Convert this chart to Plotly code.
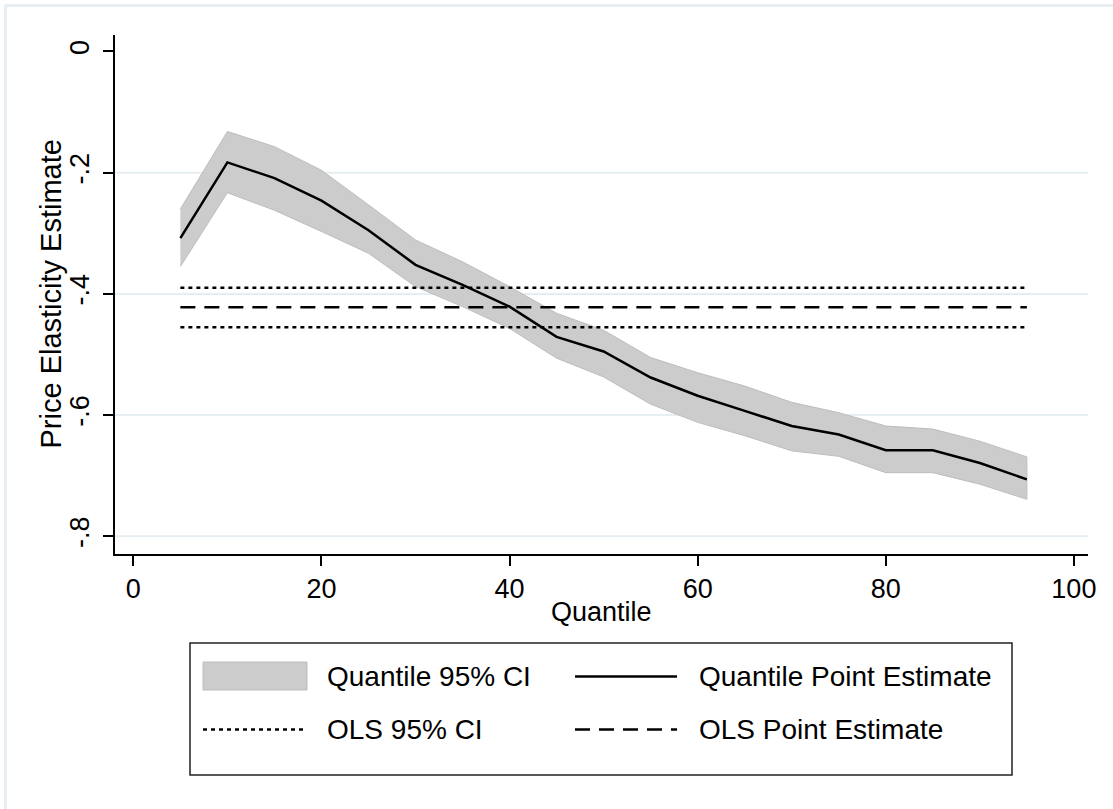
import plotly.graph_objects as go

# ---------------- data ----------------
quantiles = [5, 10, 15, 20, 25, 30, 35, 40, 45, 50, 55, 60, 65, 70, 75, 80, 85, 90, 95]
point_est = [-0.308, -0.183, -0.209, -0.246, -0.295, -0.352, -0.385, -0.421, -0.471, -0.495,
             -0.538, -0.568, -0.593, -0.618, -0.632, -0.658, -0.658, -0.679, -0.706]
ci_upper = [-0.260, -0.132, -0.157, -0.196, -0.253, -0.311, -0.347, -0.388, -0.432, -0.460,
            -0.505, -0.530, -0.552, -0.579, -0.596, -0.618, -0.623, -0.643, -0.669]
ci_lower = [-0.355, -0.233, -0.262, -0.297, -0.333, -0.388, -0.421, -0.457, -0.506, -0.537,
            -0.582, -0.612, -0.634, -0.659, -0.668, -0.695, -0.695, -0.714, -0.739]
ols_x = [5, 95]
ols_est = -0.422
ols_lo = -0.455
ols_hi = -0.390

x_ticks = [0, 20, 40, 60, 80, 100]
y_ticks = [-0.8, -0.6, -0.4, -0.2, 0]
y_ticktext = ["-.8", "-.6", "-.4", "-.2", "0"]
grid_vals = [-0.8, -0.6, -0.4, -0.2]
legend_labels = ["Quantile 95% CI", "Quantile Point Estimate", "OLS 95% CI", "OLS Point Estimate"]

# ---------------- layout geometry ----------------
W, H = 1113, 809
L, R, T, B = 115, 1088, 35, 554          # plot area in pixels
FONT = "Liberation Sans, Arial, sans-serif"
FS_TICK = 27
FS_XT = 27
FS_YT = 29
FS_LEG = 28
BAND = "#cccccc"
BAND_EDGE = "#bdbdbd"
GRID = "#e6eef1"

def px_x(p):
    return (p - L) / (R - L)

def px_y(p):
    return (B - p) / (B - T)

fig = go.Figure()

# CI band
fig.add_trace(go.Scatter(
    x=quantiles + quantiles[::-1],
    y=ci_upper + ci_lower[::-1],
    fill="toself", fillcolor=BAND,
    line=dict(color=BAND_EDGE, width=1),
    mode="lines", name=legend_labels[0], showlegend=False, hoverinfo="skip"))

# OLS CI dotted lines
for v in (ols_hi, ols_lo):
    fig.add_trace(go.Scatter(
        x=ols_x, y=[v, v], mode="lines",
        line=dict(color="black", width=2.5, dash="4px,4px"),
        name=legend_labels[2], showlegend=False))

# OLS point estimate dashed
fig.add_trace(go.Scatter(
    x=ols_x, y=[ols_est, ols_est], mode="lines",
    line=dict(color="black", width=2.5, dash="15px,9px"),
    name=legend_labels[3], showlegend=False))

# Quantile point estimate
fig.add_trace(go.Scatter(
    x=quantiles, y=point_est, mode="lines",
    line=dict(color="black", width=2.5),
    name=legend_labels[1], showlegend=False))

shapes = []
# gridlines (below data)
for g in grid_vals:
    shapes.append(dict(type="line", xref="paper", yref="y", x0=0, x1=1, y0=g, y1=g,
                       line=dict(color=GRID, width=2), layer="below"))

# outer light frame (top and left)
shapes.append(dict(type="line", xref="paper", yref="paper",
                   x0=px_x(5), x1=px_x(W), y0=px_y(5.5), y1=px_y(5.5),
                   line=dict(color="#e8eff2", width=3)))
shapes.append(dict(type="line", xref="paper", yref="paper",
                   x0=px_x(5.5), x1=px_x(5.5), y0=px_y(5), y1=px_y(H),
                   line=dict(color="#e8eff2", width=3)))

# legend box
shapes.append(dict(type="rect", xref="paper", yref="paper",
                   x0=px_x(190), x1=px_x(1012), y0=px_y(643), y1=px_y(775),
                   line=dict(color="#222222", width=1.5), fillcolor="rgba(0,0,0,0)"))
# legend swatches
row1, row2 = 676.5, 729.5
shapes.append(dict(type="rect", xref="paper", yref="paper",
                   x0=px_x(203), x1=px_x(307), y0=px_y(662), y1=px_y(690),
                   line=dict(color=BAND_EDGE, width=1), fillcolor=BAND))
shapes.append(dict(type="line", xref="paper", yref="paper",
                   x0=px_x(575), x1=px_x(677), y0=px_y(row1), y1=px_y(row1),
                   line=dict(color="black", width=2.5)))
shapes.append(dict(type="line", xref="paper", yref="paper",
                   x0=px_x(203), x1=px_x(307), y0=px_y(row2), y1=px_y(row2),
                   line=dict(color="black", width=2.5, dash="4px,4px")))
shapes.append(dict(type="line", xref="paper", yref="paper",
                   x0=px_x(575), x1=px_x(677), y0=px_y(row2), y1=px_y(row2),
                   line=dict(color="black", width=2.5, dash="15px,9px")))

annotations = []
legend_pos = [(325, row1), (697, row1), (325, row2), (697, row2)]
for lab, (lx, ly) in zip(legend_labels, legend_pos):
    annotations.append(dict(text=lab, xref="paper", yref="paper", x=px_x(lx), y=px_y(ly),
                            xanchor="left", yanchor="middle", showarrow=False,
                            font=dict(family=FONT, size=FS_LEG, color="black")))
# axis titles
annotations.append(dict(text="Quantile", xref="paper", yref="paper",
                        x=0.5, y=px_y(612), xanchor="center", yanchor="middle",
                        showarrow=False, font=dict(family=FONT, size=FS_XT, color="black")))
annotations.append(dict(text="Price Elasticity Estimate", xref="paper", yref="paper",
                        x=px_x(50), y=0.5, xanchor="center", yanchor="middle", textangle=-90,
                        showarrow=False, font=dict(family=FONT, size=FS_YT, color="black")))

fig.update_layout(
    width=W, height=H,
    margin=dict(l=L, r=W - R, t=T, b=H - B, pad=0),
    paper_bgcolor="white", plot_bgcolor="white",
    showlegend=False,
    shapes=shapes, annotations=annotations,
    font=dict(family=FONT, size=FS_TICK, color="black"),
    xaxis=dict(range=[-1.95, 101.5], tickvals=x_ticks, showgrid=False, zeroline=False,
               showline=True, linecolor="black", linewidth=1.5,
               ticks="outside", ticklen=10, tickwidth=1.5, tickcolor="black",
               ticklabelstandoff=0,
               tickfont=dict(family=FONT, size=FS_TICK, color="black")),
    yaxis=dict(range=[-0.8292, 0.0272], tickvals=y_ticks, ticktext=y_ticktext,
               showgrid=False, zeroline=False,
               showline=True, linecolor="black", linewidth=1.5,
               ticks="outside", ticklen=10, tickwidth=1.5, tickcolor="black",
               tickangle=-90, ticklabelstandoff=3,
               tickfont=dict(family=FONT, size=FS_TICK, color="black")),
)

fig.write_html("out.html")
